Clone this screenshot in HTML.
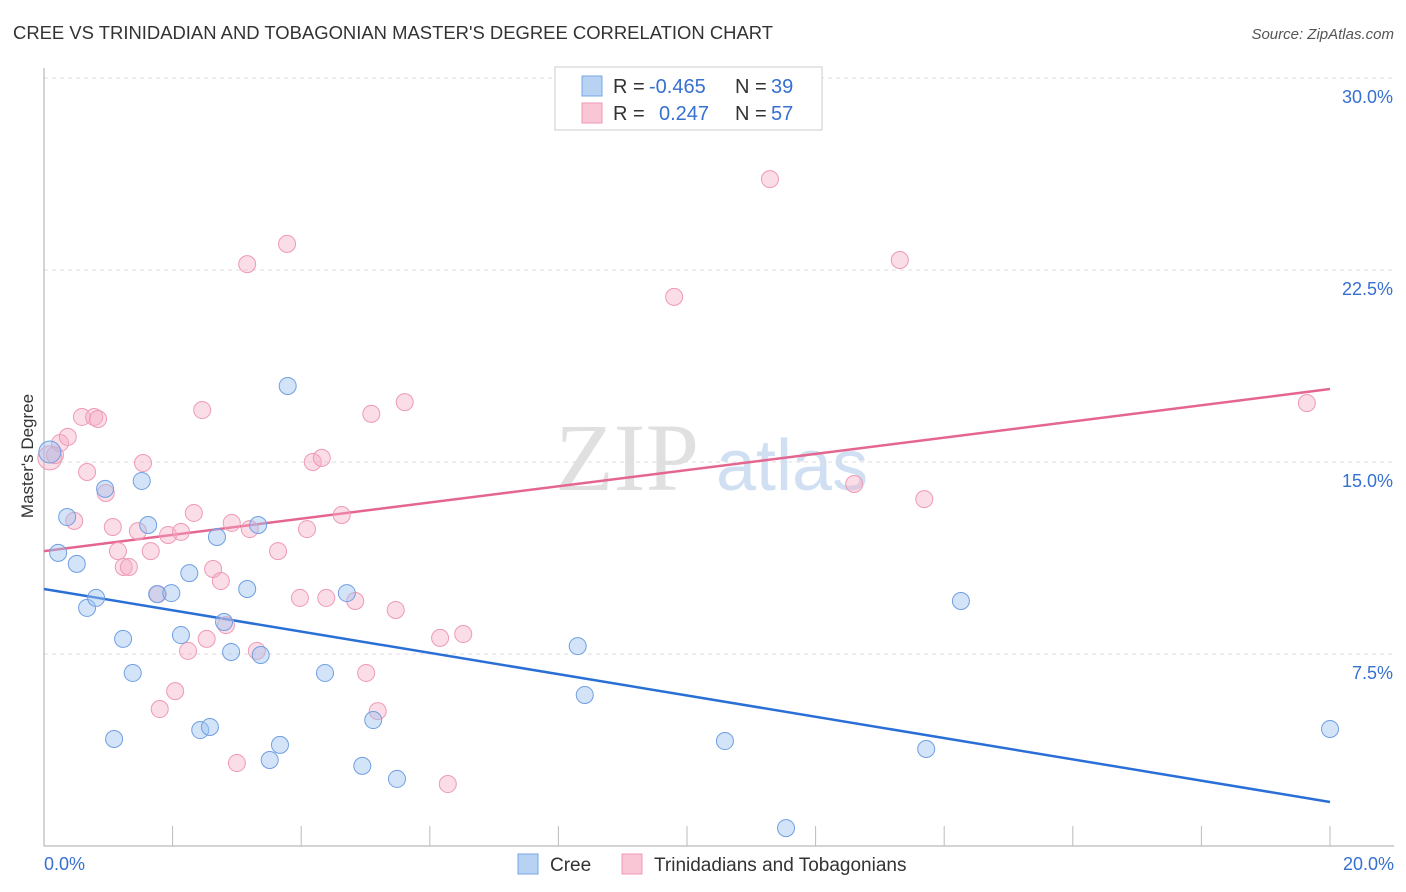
<!DOCTYPE html>
<html><head><meta charset="utf-8"><style>
body{margin:0;background:#fff;font-family:"Liberation Sans",sans-serif;}
svg{display:block}
</style></head><body>
<svg id="chart" width="1406" height="892">
<text x="13" y="39" font-size="18" fill="#333" textLength="760" lengthAdjust="spacingAndGlyphs">CREE VS TRINIDADIAN AND TOBAGONIAN MASTER'S DEGREE CORRELATION CHART</text>
<text x="1394" y="39" font-size="15" fill="#555" font-style="italic" text-anchor="end">Source: ZipAtlas.com</text>
<text x="0" y="0" transform="translate(33,456) rotate(-90)" font-size="17" fill="#333" text-anchor="middle">Master's Degree</text>
<g>
<text x="555" y="490" font-size="96" fill="#d9d9d9" font-family="Liberation Serif,serif" opacity="0.8">ZIP</text>
<text x="716" y="490" font-size="72" fill="#c5d8f0" opacity="0.8">atlas</text>
</g>
<g id="grid"></g><g id="axes"></g><g id="lines"></g><g id="pts"></g>
<g>
<rect x="555" y="67" width="267" height="63" fill="#fff" stroke="#ccc"/>
<rect x="582" y="76" width="20" height="20" fill="#b8d2f3" stroke="#7aa6e4"/>
<rect x="582" y="103" width="20" height="20" fill="#f9c6d5" stroke="#ee9ab5"/>
<text x="613" y="93" font-size="20" fill="#333">R =</text>
<text x="649" y="93" font-size="20" fill="#3670d0">-0.465</text>
<text x="735" y="93" font-size="20" fill="#333">N =</text>
<text x="771" y="93" font-size="20" fill="#3670d0">39</text>
<text x="613" y="120" font-size="20" fill="#333">R =</text>
<text x="659" y="120" font-size="20" fill="#3670d0">0.247</text>
<text x="735" y="120" font-size="20" fill="#333">N =</text>
<text x="771" y="120" font-size="20" fill="#3670d0">57</text>
</g>
<g>
<rect x="518" y="854" width="20" height="20" fill="#b8d2f3" stroke="#7aa6e4"/>
<text x="550" y="871" font-size="19" fill="#333">Cree</text>
<rect x="622" y="854" width="20" height="20" fill="#f9c6d5" stroke="#ee9ab5"/>
<text x="654" y="871" font-size="19" fill="#333">Trinidadians and Tobagonians</text>
</g>
</svg>
<script>
const xTicks=[0,20];
const yTicks=[7.5,15,22.5,30];
const creeX=[0.09,0.22,0.36,0.51,0.67,0.81,0.95,1.09,1.23,1.38,1.52,1.62,1.76,1.98,2.13,2.26,2.43,2.58,2.69,2.80,2.91,3.16,3.33,3.37,3.51,3.67,3.79,4.37,4.71,4.95,5.12,5.49,8.30,8.41,10.59,11.54,13.72,14.26,20.0];
const creeY=[15.39,11.45,12.85,11.02,9.30,9.69,13.95,4.18,8.09,6.76,14.26,12.54,9.84,9.88,8.24,10.66,4.53,4.65,12.07,8.75,7.58,10.04,12.54,7.46,3.36,3.95,17.97,6.76,9.88,3.13,4.92,2.62,7.81,5.90,4.10,0.70,3.79,9.57,4.57];
const trinX=[0.09,0.17,0.25,0.37,0.47,0.59,0.67,0.78,0.84,0.96,1.07,1.15,1.24,1.32,1.46,1.54,1.66,1.80,1.77,1.93,2.04,2.13,2.24,2.33,2.46,2.53,2.63,2.75,2.83,2.92,3.00,3.16,3.20,3.31,3.64,3.78,3.98,4.09,4.18,4.32,4.39,4.63,4.84,5.01,5.09,5.19,5.47,5.61,6.16,6.28,6.52,9.80,11.29,12.60,13.31,13.69,19.64];
const trinY=[15.16,15.27,15.74,15.98,12.70,16.76,14.61,16.76,16.68,13.79,12.46,11.52,10.90,10.90,12.30,14.96,11.52,5.35,9.84,12.15,6.05,12.27,7.62,13.01,17.03,8.09,10.82,10.35,8.63,12.62,3.24,22.73,12.38,7.62,11.52,23.52,9.69,12.38,15.00,15.16,9.69,12.93,9.57,6.76,16.88,5.27,9.22,17.34,8.13,2.42,8.28,21.45,26.05,14.14,22.89,13.55,17.30];
const creeTrend=[10.04,1.72];
const trinTrend=[11.52,17.85];
const NS="http://www.w3.org/2000/svg";
const sx=v=>44+v*64.3, sy=v=>846-v*25.6;
function mk(t,a,p){const e=document.createElementNS(NS,t);for(const k in a)e.setAttribute(k,a[k]);document.getElementById(p).appendChild(e);return e;}
yTicks.forEach(t=>{
 const g=mk('line',{x1:44,x2:1394,y1:sy(t),y2:sy(t),stroke:'#ddd','stroke-dasharray':'4,4'},'grid');
 
 
 const l=mk('text',{x:1393,y:sy(t)+25,'font-size':18,fill:'#3670d0','text-anchor':'end'},'axes');l.textContent=t.toFixed(1)+'%';
 
 
});
mk('line',{x1:44,x2:44,y1:68,y2:846,stroke:'#aaa'},'axes');
mk('line',{x1:44,x2:1394,y1:846,y2:846,stroke:'#aaa'},'axes');
for(let i=1;i<=10;i++){mk('line',{x1:sx(i*2),x2:sx(i*2),y1:826,y2:846,stroke:'#bbb'},'axes');}
xTicks.forEach((t,i)=>{const l=mk('text',{x:i?1394:44,y:870,'font-size':18,fill:'#3670d0','text-anchor':i?'end':'start'},'axes');l.textContent=t.toFixed(1)+'%';
 
 });
const l1=mk('line',{x1:sx(0),y1:sy(creeTrend[0]),x2:sx(20),y2:sy(creeTrend[1]),stroke:'#2a6fd6','stroke-width':2.5},'lines');


const l2=mk('line',{x1:sx(0),y1:sy(trinTrend[0]),x2:sx(20),y2:sy(trinTrend[1]),stroke:'#e4668f','stroke-width':2.5},'lines');


trinX.forEach((x,i)=>{const c=mk('circle',{cx:sx(x),cy:sy(trinY[i]),r:i?8.5:12,fill:'rgba(246,170,195,0.4)',stroke:'#ee9ab5','stroke-width':1},'pts');
 
 });
creeX.forEach((x,i)=>{const c=mk('circle',{cx:sx(x),cy:sy(creeY[i]),r:i?8.5:11,fill:'rgba(160,195,240,0.45)',stroke:'#6f9fe2','stroke-width':1},'pts');
 
 });
</script>
</body></html>
